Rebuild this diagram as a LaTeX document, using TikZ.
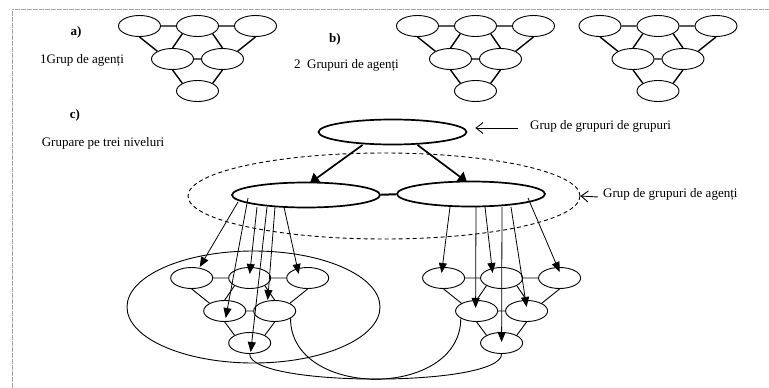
\documentclass[tikz,border=0pt]{standalone}
\usepackage{fontspec}
\setmainfont{Liberation Serif}
\usetikzlibrary{shapes.geometric,arrows.meta,calc}

\tikzset{
  agent/.style={ellipse, draw, line width=0.9pt, minimum width=42pt, minimum height=21pt, inner sep=0pt},
  conthick/.style={line width=1.4pt},
  conthin/.style={line width=0.9pt},
  bigell/.style={ellipse, draw, line width=1.7pt, minimum width=148pt, minimum height=25pt, inner sep=0pt},
  dashell/.style={ellipse, draw, line width=0.9pt, dash pattern=on 4pt off 3pt, minimum width=392pt, minimum height=86pt, inner sep=0pt},
  encell/.style={ellipse, draw, line width=0.9pt, minimum width=253pt, minimum height=112pt, inner sep=0pt},
  lbl/.style={inner sep=0pt, font=\fontsize{13}{15}\selectfont},
  downarrow/.style={line width=0.8pt, -{Triangle[length=10pt,width=8pt]}},
  bigarrow/.style={line width=1.7pt, -{Triangle[length=9pt,width=12pt]}},
  labarrow/.style={line width=0.9pt, -{Straight Barb[length=7pt,width=11pt]}},
  curveline/.style={line width=0.9pt},
  framedots/.style={line width=0.8pt, gray!70, dash pattern=on 0.6pt off 0.6pt}
}

\newcommand\agentgrp[4]{%
  \begin{scope}[shift={(#2,#3)}]
    \node[agent] (#1t1) at (-58,0) {};
    \node[agent] (#1t2) at (0,0) {};
    \node[agent] (#1t3) at (58,0) {};
    \node[agent] (#1m1) at (-25,33) {};
    \node[agent] (#1m2) at (25,33) {};
    \node[agent] (#1b) at (0,65) {};
    \draw[#4] (#1t1.east) -- (#1t2.west) (#1t2.east) -- (#1t3.west)
      (#1t1.south) -- (#1m1.north west) (#1t2.south west) -- (#1m1.north)
      (#1t2.south east) -- (#1m2.north) (#1t3.south) -- (#1m2.north east)
      (#1m1.east) -- (#1m2.west)
      (#1m1.south) -- (#1b.north west) (#1m2.south) -- (#1b.north east);
  \end{scope}}

\begin{document}
\begin{tikzpicture}[x=1pt,y=-1pt]
\useasboundingbox (0,0) rectangle (769,388);

% frame
\draw[framedots] (12,388) -- (12,9) -- (769,9);

% labels
\node[lbl] (la) at (76,32) {\textbf{a)}};
\node[lbl] (ta) at (82,60) {1Grup de agenți};
\node[lbl] (lb) at (335,39) {\textbf{b)}};
\node[lbl] (tb) at (346.5,65) {2~~Grupuri de agenți};
\node[lbl] (lc) at (75,115) {\textbf{c)}};
\node[lbl] (tc) at (103,143) {Grupare pe trei niveluri};

% groups a and b
\agentgrp{a}{197.5}{26}{conthick}
\agentgrp{b}{475.5}{26}{conthick}
\agentgrp{d}{658}{26}{conthick}

% part c
\node[bigell] (top) at (392.5,132) {};
\node[bigell] (cl) at (306,195) {};
\node[bigell] (cr) at (471,194) {};
\node[dashell] (dash) at (384,196) {};
\node[encell] (enc) at (253.5,307) {};

\draw[line width=2pt] (cl) -- (cr);
\draw[bigarrow] ($(top.center)+(-30,13)$) -- ($(cl.center)+(4,-12)$);
\draw[bigarrow] ($(top.center)+(25,13)$) -- ($(cr.center)+(-4,-12)$);

\node[lbl, anchor=west] (l1) at (530,126) {Grup de grupuri de grupuri};
\node[lbl, anchor=west] (l2) at (603,194) {Grup de grupuri de agenți};
\draw[labarrow] ($(l1.west)+(-12,2)$) -- ($(top.east)+(8,-4)$);
\draw[labarrow] ($(l2.west)+(-5,3)$) -- (dash.east);

\agentgrp{L}{249.7}{278}{conthin}
\agentgrp{R}{501.6}{278}{conthin}

% arrows to left group
\draw[downarrow] ($(cl.center)+(-68,7)$) -- ($(Lt1.center)+(8,-11)$);
\draw[downarrow] ($(cl.center)+(-58,3)$) -- ($(Lm1.center)+(1,7)$);
\draw[downarrow] ($(cl.center)+(-49,12)$) -- ($(Lt2.center)+(0,-4)$);
\draw[downarrow] ($(cl.center)+(-39,12)$) -- ($(Lb.center)+(1,9)$);
\draw[downarrow] ($(cl.center)+(-31,12)$) -- ($(Lm2.center)+(-7,-11)$);
\draw[downarrow] ($(cl.center)+(-22,12)$) -- ($(Lt3.center)+(-9,-4)$);

% arrows to right group
\draw[downarrow] ($(cr.center)+(-21,13)$) -- ($(Rt1.center)+(-2,-5)$);
\draw[downarrow] ($(cr.center)+(5,13)$) -- ($(Rm1.center)+(-1,-3)$);
\draw[downarrow] ($(cr.center)+(14,13)$) -- ($(Rt2.center)+(-9,-5)$);
\draw[downarrow] ($(cr.center)+(31,13)$) -- ($(Rb.center)+(0,-1)$);
\draw[downarrow] ($(cr.center)+(40,13)$) -- ($(Rm2.center)+(0,-4)$);
\draw[downarrow] ($(cr.center)+(57,4)$) -- ($(Rt3.center)+(0,-6)$);

% bottom curves
\draw[curveline] (Lb.south) .. controls +(0,33.5) and +(0,33.5) .. (Rb.south);
\draw[curveline] (Lm2.-25) .. controls +(0,81) and +(0,81) .. (Rm1.-155);
\end{tikzpicture}
\end{document}
